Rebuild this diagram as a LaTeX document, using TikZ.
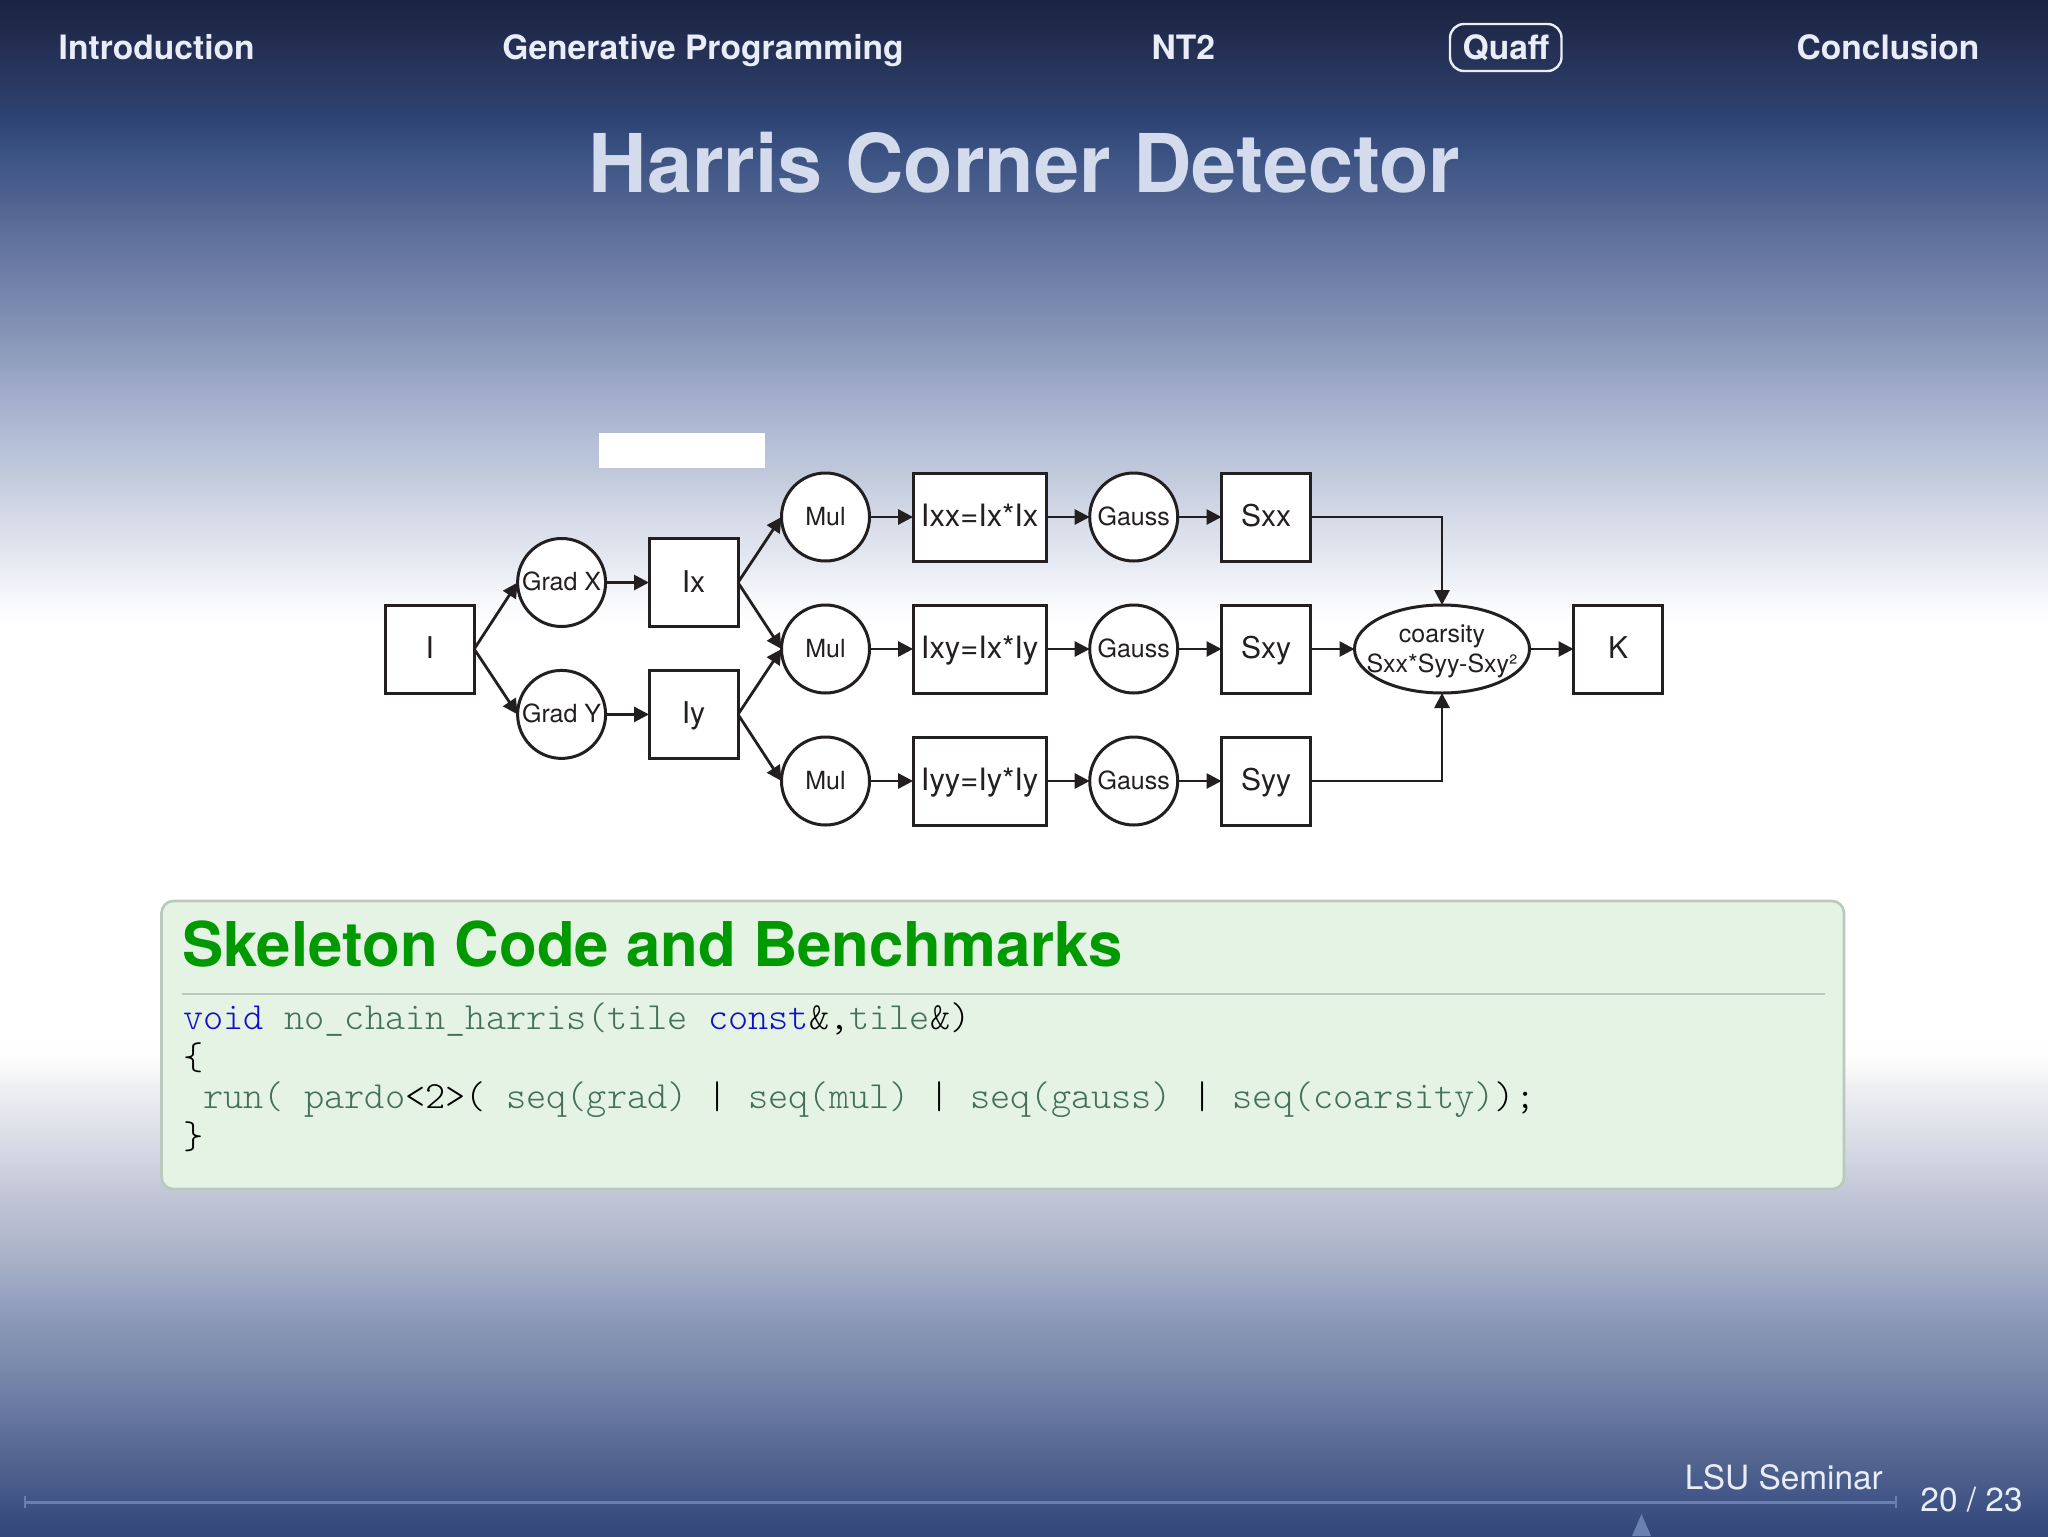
\documentclass[tikz,border=0pt]{standalone}
\usepackage{fontspec}
\setmainfont{TeX Gyre Heros}
\newfontfamily\codefont{Latin Modern Mono Light}
\usetikzlibrary{arrows.meta,shapes.geometric}
\definecolor{ink}{HTML}{231F20}
\definecolor{navtext}{HTML}{E8EDF7}
\definecolor{titletext}{HTML}{D3DBEC}
\definecolor{footline}{HTML}{6A80B0}
\definecolor{blockfill}{HTML}{E5F3E5}
\definecolor{blockedge}{HTML}{BAC9BE}
\definecolor{blocktitle}{HTML}{009900}
\definecolor{kw}{HTML}{1010C8}
\definecolor{ident}{HTML}{44705A}
\definecolor{t00}{HTML}{1A2340}\definecolor{t01}{HTML}{222D50}\definecolor{t02}{HTML}{2A3860}
\definecolor{t03}{HTML}{2E4474}\definecolor{t04}{HTML}{3D5585}\definecolor{t05}{HTML}{4F628F}
\definecolor{t06}{HTML}{62739E}\definecolor{t07}{HTML}{6F7FA8}\definecolor{t08}{HTML}{8090B3}
\definecolor{t09}{HTML}{919FBF}\definecolor{t10}{HTML}{A3AFCC}\definecolor{t11}{HTML}{B3BED5}
\definecolor{t12}{HTML}{C3CBDD}\definecolor{t13}{HTML}{D6DBE8}\definecolor{t14}{HTML}{E4E8F1}
\definecolor{t15}{HTML}{F7F8FB}\definecolor{wh}{HTML}{FFFFFF}
\definecolor{b01}{HTML}{FDFDFD}\definecolor{b02}{HTML}{F0F1F3}\definecolor{b03}{HTML}{E0E2EA}
\definecolor{b04}{HTML}{D2D5E2}\definecolor{b05}{HTML}{C3C8D8}\definecolor{b06}{HTML}{B7BDD0}
\definecolor{b07}{HTML}{A9B2C8}\definecolor{b08}{HTML}{99A5C2}\definecolor{b09}{HTML}{8A98B6}
\definecolor{b10}{HTML}{7D8DAE}\definecolor{b11}{HTML}{7080A6}\definecolor{b12}{HTML}{62739E}
\definecolor{b13}{HTML}{54668F}\definecolor{b14}{HTML}{45598A}\definecolor{b15}{HTML}{364A7C}
\definecolor{b16}{HTML}{33477A}
\pgfdeclareverticalshading{slidebg}{100bp}{
color(0bp)=(b16);color(25bp)=(b16);color(25.42bp)=(b15);color(26.5bp)=(b14);color(27.57bp)=(b13);
color(28.68bp)=(b12);color(29.75bp)=(b11);color(30.82bp)=(b10);color(31.93bp)=(b09);color(33bp)=(b08);
color(34.08bp)=(b07);color(35.19bp)=(b06);color(36.26bp)=(b05);color(37.34bp)=(b04);color(38.44bp)=(b03);
color(39.75bp)=(b02);color(40.5bp)=(b01);color(41.15bp)=(wh);color(54.65bp)=(wh);color(55.5bp)=(t15);
color(56.8bp)=(t14);color(58.1bp)=(t13);color(59.4bp)=(t12);color(60.7bp)=(t11);color(62bp)=(t10);
color(63.3bp)=(t09);color(64.6bp)=(t08);color(65.9bp)=(t07);color(67.2bp)=(t06);color(68.5bp)=(t05);
color(69.8bp)=(t04);color(71.09bp)=(t03);color(72.4bp)=(t02);color(73.7bp)=(t01);color(75bp)=(t00);
color(100bp)=(t00)}
\newcommand{\K}[1]{\textcolor{kw}{#1}}
\newcommand{\N}[1]{\textcolor{ident}{#1}}
\tikzset{
 x=0.5pt,y=-0.5pt,
 px25/.style={font=\fontsize{12.5}{15}\selectfont},
 boxnode/.style={draw=ink,line width=1.5pt,fill=white,rectangle,inner sep=0pt,outer sep=0pt,minimum width=44.5pt,minimum height=44pt,text=ink,text height=9.5pt,text depth=0pt,font=\fontsize{15}{18}\selectfont},
 widebox/.style={boxnode,minimum width=66.5pt,font=\fontsize{15.4}{18}\selectfont},
 opnode/.style={draw=ink,line width=1.5pt,fill=white,circle,inner sep=0pt,outer sep=0pt,minimum size=44pt,text=ink,text height=8pt,text depth=0pt,px25},
 oval/.style={draw=ink,line width=1.5pt,fill=white,ellipse,inner xsep=-8pt,inner ysep=0pt,outer sep=0pt,minimum width=87.5pt,minimum height=44pt,text=ink,align=center,px25},
 conn/.style={draw=ink,line width=1.4pt,-{Triangle[length=7.5pt,width=7.5pt]}},
 navitem/.style={inner sep=0pt,anchor=base,text=navtext,font=\fontsize{16.8}{20}\bfseries\selectfont},
 footitem/.style={inner sep=0pt,text=navtext,font=\fontsize{16.7}{20}\selectfont},
 codeline/.style={inner sep=0pt,anchor=base west,text=black,font=\fontsize{19.22}{22}\codefont\selectfont},
}
\begin{document}
\begin{tikzpicture}
\useasboundingbox (0,0) rectangle (2048,1536);
\shade[shading=slidebg] (0,0) rectangle (2048,1536);
% navigation
\node[navitem] (nav1) at (156.7,60) {Introduction};
\node[navitem] (nav2) at (703,60) {Generative Programming};
\node[navitem] (nav3) at (1183.4,60) {NT2};
\node[navitem] (nav4) at (1506,60) {Quaff};
\node[navitem] (nav5) at (1888,60) {Conclusion};
\draw[navtext,line width=1.2pt,rounded corners=7pt] (1450,24) rectangle (1561.5,71);
% title
\node[inner sep=0pt,anchor=base,text=titletext,font=\fontsize{40.5}{44}\bfseries\selectfont] (title) at (1024.6,192) {Harris Corner Detector};
% white patch
\fill[white] (599,433) rectangle (765,468);
% diagram
\node[boxnode] (I) at (429.7,649) {I};
\node[opnode] (gx) at (561.6,582.5) {Grad X};
\node[opnode] (gy) at (561.6,714.4) {Grad Y};
\node[boxnode] (ix) at (693.5,582.5) {Ix};
\node[boxnode] (iy) at (693.5,714.4) {Iy};
\node[opnode] (m1) at (825.5,517) {Mul};
\node[opnode] (m2) at (825.5,649) {Mul};
\node[opnode] (m3) at (825.5,781) {Mul};
\node[widebox] (ixx) at (979.6,517) {Ixx=Ix*Ix};
\node[widebox] (ixy) at (979.6,649) {Ixy=Ix*Iy};
\node[widebox] (iyy) at (979.6,781) {Iyy=Iy*Iy};
\node[opnode] (g1) at (1133.7,517) {Gauss};
\node[opnode] (g2) at (1133.7,649) {Gauss};
\node[opnode] (g3) at (1133.7,781) {Gauss};
\node[boxnode] (sxx) at (1266,517) {Sxx};
\node[boxnode] (sxy) at (1266,649) {Sxy};
\node[boxnode] (syy) at (1266,781) {Syy};
\node[oval] (co) at (1442,649) {\rule{0pt}{10.8pt}coarsity\\Sxx*Syy-Sxy²};
\node[boxnode] (k) at (1618,649) {K};
\draw[conn] (I.east) -- (gx.west);
\draw[conn] (I.east) -- (gy.west);
\draw[conn] (gx) -- (ix);
\draw[conn] (gy) -- (iy);
\draw[conn] (ix.east) -- (m1.west);
\draw[conn] (ix.east) -- (m2.west);
\draw[conn] (iy.east) -- (m2.west);
\draw[conn] (iy.east) -- (m3.west);
\draw[conn] (m1) -- (ixx);
\draw[conn] (m2) -- (ixy);
\draw[conn] (m3) -- (iyy);
\draw[conn] (ixx) -- (g1);
\draw[conn] (ixy) -- (g2);
\draw[conn] (iyy) -- (g3);
\draw[conn] (g1) -- (sxx);
\draw[conn] (g2) -- (sxy);
\draw[conn] (g3) -- (syy);
\draw[conn] (sxx.east) -| (co.north);
\draw[conn] (syy.east) -| (co.south);
\draw[conn] (sxy) -- (co);
\draw[conn] (co) -- (k);
% block
\draw[blockedge,fill=blockfill,line width=1.3pt,rounded corners=6pt] (161.5,901) rectangle (1844,1189);
\node[inner sep=0pt,anchor=base west,text=blocktitle,font=\fontsize{30.85}{34}\bfseries\selectfont] (blockhead) at (182,966.7) {Skeleton Code and Benchmarks};
\draw[blockedge,line width=1.4pt] (182,994) -- (1825,994);
\node[codeline] (c1) at (183,1029.5) {\K{void}\ \N{no\_chain\_harris(tile}\ \K{const}\&,\N{tile}\&)};
\node[codeline] (c2) at (183,1069) {\{};
\node[codeline] (c3) at (203,1108.5) {\N{run(}\ \N{pardo}<2>(\ \N{seq(grad)}\ |\ \N{seq(mul)}\ |\ \N{seq(gauss)}\ |\ \N{seq(coarsity)});};
\node[codeline] (c4) at (183,1148) {\}};
% footer
\draw[footline,line width=1.2pt] (25,1502.3) -- (1896,1502.3);
\draw[footline,line width=0.8pt] (25,1496) -- (25,1508) (1896,1496) -- (1896,1508);
\fill[footline] (1641.5,1514) -- (1651,1536) -- (1632,1536) -- cycle;
\node[footitem,anchor=base west] (seminar) at (1684.5,1489) {LSU Seminar};
\node[footitem,anchor=base east] (pageno) at (2023,1511.7) {20 / 23};
\end{tikzpicture}
\end{document}
